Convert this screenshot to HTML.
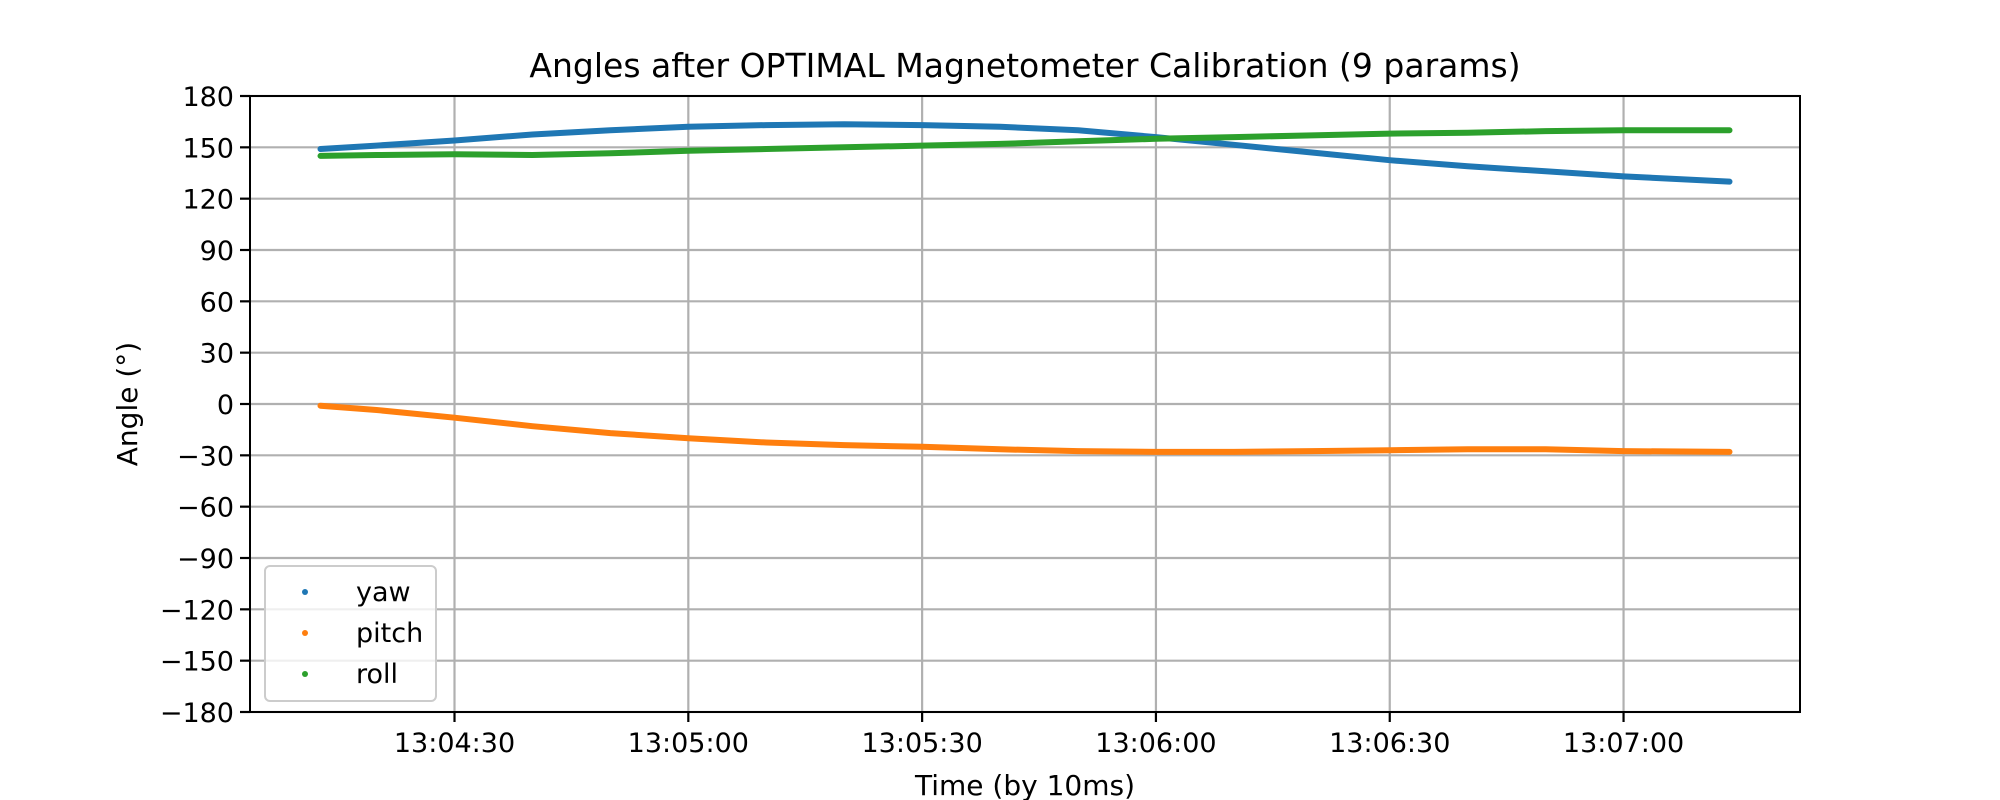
<!DOCTYPE html>
<html><head><meta charset="utf-8"><style>
body{margin:0;background:#fff}
svg{display:block;font-family:"DejaVu Sans","Liberation Sans",sans-serif}
</style></head><body>
<svg id="chart" width="2000" height="800" viewBox="0 0 2000 800">
<rect width="2000" height="800" fill="#fff"/>
<text x="1025" y="77" font-size="33" text-anchor="middle">Angles after OPTIMAL Magnetometer Calibration (9 params)</text>
<g id="grid"></g>
<g id="series"></g>
<rect x="250" y="96" width="1550" height="616" fill="none" stroke="#000" stroke-width="2"/>
<g id="ticks"></g>
<text x="1025" y="795" font-size="28" text-anchor="middle">Time (by 10ms)</text>
<text transform="translate(137,404) rotate(-90)" font-size="28" text-anchor="middle">Angle (°)</text>
<g>
<rect x="265" y="566" width="171" height="135" rx="5" fill="#fff" fill-opacity="0.8" stroke="#ccc" stroke-width="2"/>
<circle cx="305" cy="592" r="3" fill="#1f77b4"/><text x="356" y="601" font-size="27">yaw</text>
<circle cx="305" cy="633" r="3" fill="#ff7f0e"/><text x="356" y="642" font-size="27">pitch</text>
<circle cx="305" cy="674" r="3" fill="#2ca02c"/><text x="356" y="683" font-size="27">roll</text>
</g>
</svg>
<script>
// time in seconds after 13:04:00
const times = [12.8, 20, 30, 40, 50, 60, 70, 80, 90, 100, 110, 120, 130, 140, 150, 160, 170, 180, 193.6];
const yaw   = [149, 151, 154, 157.5, 160, 162, 163, 163.5, 163, 162, 160, 156, 151.5, 147, 142.5, 139, 136, 133, 130];
const pitch = [-1, -3.5, -8, -13, -17, -20, -22.5, -24, -25, -26.5, -27.5, -28, -28, -27.5, -27, -26.5, -26.5, -27.5, -28];
const roll  = [145, 145.5, 146, 145.5, 146.5, 148, 149, 150, 151, 152, 153.5, 155, 156, 157, 158, 158.5, 159.5, 160, 160];
const yTicks = [-180,-150,-120,-90,-60,-30,0,30,60,90,120,150,180];
const xTicks = [30, 60, 90, 120, 150, 180];
const xTickLabels = ["13:04:30","13:05:00","13:05:30","13:06:00","13:06:30","13:07:00"];

const NS="http://www.w3.org/2000/svg";
const L=250,R=1800,T=96,B=712;
const t0=times[0], t1=times[times.length-1], pad=(t1-t0)*0.05;
const xs=t=>L+(t-(t0-pad))/((t1+pad)-(t0-pad))*(R-L);
const ys=v=>B-(v+180)/360*(B-T);
function mk(tag,attrs,parent){const e=document.createElementNS(NS,tag);for(const k in attrs)e.setAttribute(k,attrs[k]);parent.appendChild(e);return e;}
const grid=document.getElementById('grid'),ticks=document.getElementById('ticks'),ser=document.getElementById('series');
yTicks.forEach(v=>{
  const y=ys(v);
  const g=mk('line',{x1:L,x2:R,y1:y,y2:y,stroke:'#b0b0b0','stroke-width':2.2},grid);
  
  
  mk('line',{x1:L-10,x2:L,y1:y,y2:y,stroke:'#000','stroke-width':2.2},ticks);
  const tx=mk('text',{x:L-16,y:y+10,'font-size':27,'text-anchor':'end'},ticks);
  tx.textContent=(v<0?'\u2212'+(-v):''+v);
  
  
});
xTicks.forEach((t,i)=>{
  const x=xs(t);
  const g=mk('line',{x1:x,x2:x,y1:T,y2:B,stroke:'#b0b0b0','stroke-width':2.2},grid);
  
  
  mk('line',{x1:x,x2:x,y1:B,y2:B+10,stroke:'#000','stroke-width':2.2},ticks);
  const tx=mk('text',{x:x,y:B+40,'font-size':27,'text-anchor':'middle'},ticks);
  tx.textContent=xTickLabels[i];
  
  
});
[[yaw,'#1f77b4','yaw-series'],[pitch,'#ff7f0e','pitch-series'],[roll,'#2ca02c','roll-series']].forEach(([d,c,n])=>{
  const pts=d.map((v,i)=>xs(times[i]).toFixed(1)+','+ys(v).toFixed(1)).join(' ');
  const p=mk('polyline',{points:pts,fill:'none',stroke:c,'stroke-width':6,'stroke-linecap':'round','stroke-linejoin':'round'},ser);
  
  
});
</script>
</body></html>
